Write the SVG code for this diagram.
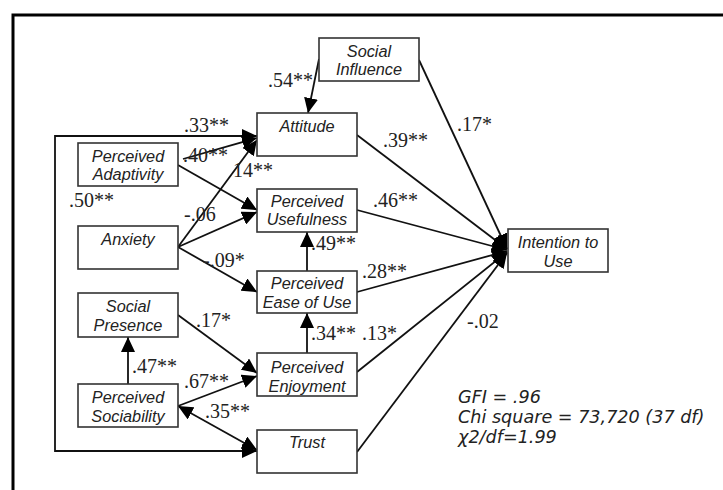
<svg xmlns="http://www.w3.org/2000/svg" width="723" height="490" viewBox="0 0 723 490">
<style>
.box{fill:#fff;stroke:#333;stroke-width:1.6}
.nt{font-family:"Liberation Sans",Arial,sans-serif;font-style:italic;font-size:16.3px;fill:#222;text-anchor:middle}
.lb{font-family:"Liberation Serif","Times New Roman",serif;font-size:20px;fill:#222}
.fit{font-family:"DejaVu Sans",Verdana,sans-serif;font-style:italic;font-size:17.6px;fill:#222}
.c{fill:none;stroke:#111;stroke-width:1.8}
.a{marker-end:url(#ah)}
</style>
<defs>
<marker id="ah" viewBox="0 0 15 14" refX="15" refY="7" markerWidth="15" markerHeight="14" markerUnits="userSpaceOnUse" orient="auto-start-reverse">
<path d="M0,0 L15,7 L0,14 z" fill="#000"/>
</marker>
</defs>
<rect x="0" y="0" width="723" height="490" fill="#fff"/>
<g id="frame">
<path d="M13,490 V15 H723" fill="none" stroke="#000" stroke-width="3"/>
</g>
<g id="connectors">
<path class="c" d="M257,136 H55 V451 H257" marker-start="url(#ah)" marker-end="url(#ah)"/>
<line class="c a" x1="319" y1="59" x2="308" y2="113"/>
<line class="c a" x1="183" y1="159" x2="257" y2="138"/>
<line class="c a" x1="178" y1="247" x2="257" y2="140"/>
<line class="c a" x1="178" y1="165" x2="257" y2="210"/>
<line class="c a" x1="178" y1="247" x2="257" y2="212"/>
<line class="c a" x1="178" y1="247" x2="257" y2="292"/>
<line class="c a" x1="307" y1="271" x2="307" y2="232"/>
<line class="c a" x1="307" y1="353" x2="307" y2="313"/>
<line class="c a" x1="178" y1="315" x2="257" y2="373"/>
<line class="c a" x1="178" y1="406" x2="257" y2="376"/>
<line class="c" x1="178" y1="406" x2="257" y2="450" marker-start="url(#ah)" marker-end="url(#ah)"/>
<line class="c a" x1="128" y1="384" x2="128" y2="337"/>
<line class="c a" x1="419" y1="60" x2="507" y2="249"/>
<line class="c a" x1="357" y1="135" x2="507" y2="249"/>
<line class="c a" x1="357" y1="210" x2="507" y2="250"/>
<line class="c a" x1="357" y1="292" x2="507" y2="251"/>
<line class="c a" x1="357" y1="372" x2="507" y2="252"/>
<line class="c a" x1="357" y1="452" x2="507" y2="253"/>
</g>
<g id="social-influence"><rect class="box" x="319" y="38" width="100" height="43"/><text class="nt" x="369" y="57">Social</text><text class="nt" x="369" y="75">Influence</text></g>
<g id="attitude"><rect class="box" x="257" y="113" width="100" height="43"/><text class="nt" x="307" y="132">Attitude</text></g>
<g id="perceived-adaptivity"><rect class="box" x="78" y="143" width="100" height="43"/><text class="nt" x="128" y="162">Perceived</text><text class="nt" x="128" y="180">Adaptivity</text></g>
<g id="perceived-usefulness"><rect class="box" x="257" y="189" width="100" height="43"/><text class="nt" x="307" y="207">Perceived</text><text class="nt" x="307" y="225">Usefulness</text></g>
<g id="anxiety"><rect class="box" x="78" y="226" width="100" height="43"/><text class="nt" x="128" y="245">Anxiety</text></g>
<g id="perceived-ease-of-use"><rect class="box" x="257" y="271" width="100" height="42"/><text class="nt" x="307" y="289">Perceived</text><text class="nt" x="307" y="308">Ease of Use</text></g>
<g id="social-presence"><rect class="box" x="78" y="293" width="100" height="44"/><text class="nt" x="128" y="312">Social</text><text class="nt" x="128" y="331">Presence</text></g>
<g id="perceived-enjoyment"><rect class="box" x="257" y="353" width="100" height="43"/><text class="nt" x="307" y="373">Perceived</text><text class="nt" x="307" y="392">Enjoyment</text></g>
<g id="perceived-sociability"><rect class="box" x="78" y="384" width="100" height="43"/><text class="nt" x="128" y="403">Perceived</text><text class="nt" x="128" y="422">Sociability</text></g>
<g id="trust"><rect class="box" x="257" y="430" width="100" height="43"/><text class="nt" x="307" y="448">Trust</text></g>
<g id="intention-to-use"><rect class="box" x="508" y="229" width="100" height="43"/><text class="nt" x="558" y="248">Intention to</text><text class="nt" x="558" y="267">Use</text></g>
<g id="labels">
<text class="lb" x="268" y="87">.54**</text>
<text class="lb" x="184" y="132">.33**</text>
<text class="lb" x="183" y="162">.40**</text>
<text class="lb" x="233" y="177">14**</text>
<text class="lb" x="383" y="147">.39**</text>
<text class="lb" x="457" y="131">.17*</text>
<text class="lb" x="69" y="207">.50**</text>
<text class="lb" x="184" y="221">-.06</text>
<text class="lb" x="203" y="267">-.09*</text>
<text class="lb" x="373" y="207">.46**</text>
<text class="lb" x="311" y="250">.49**</text>
<text class="lb" x="362" y="278">.28**</text>
<text class="lb" x="196" y="327">.17*</text>
<text class="lb" x="311" y="340">.34**</text>
<text class="lb" x="362" y="340">.13*</text>
<text class="lb" x="467" y="328">-.02</text>
<text class="lb" x="132" y="373">.47**</text>
<text class="lb" x="184" y="388">.67**</text>
<text class="lb" x="205" y="418">.35**</text>
</g>
<g id="fit">
<text class="fit" x="458" y="403">GFI = .96</text>
<text class="fit" x="458" y="423">Chi square = 73,720 (37 df)</text>
<text class="fit" x="458" y="443">χ2/df=1.99</text>
</g>
</svg>
